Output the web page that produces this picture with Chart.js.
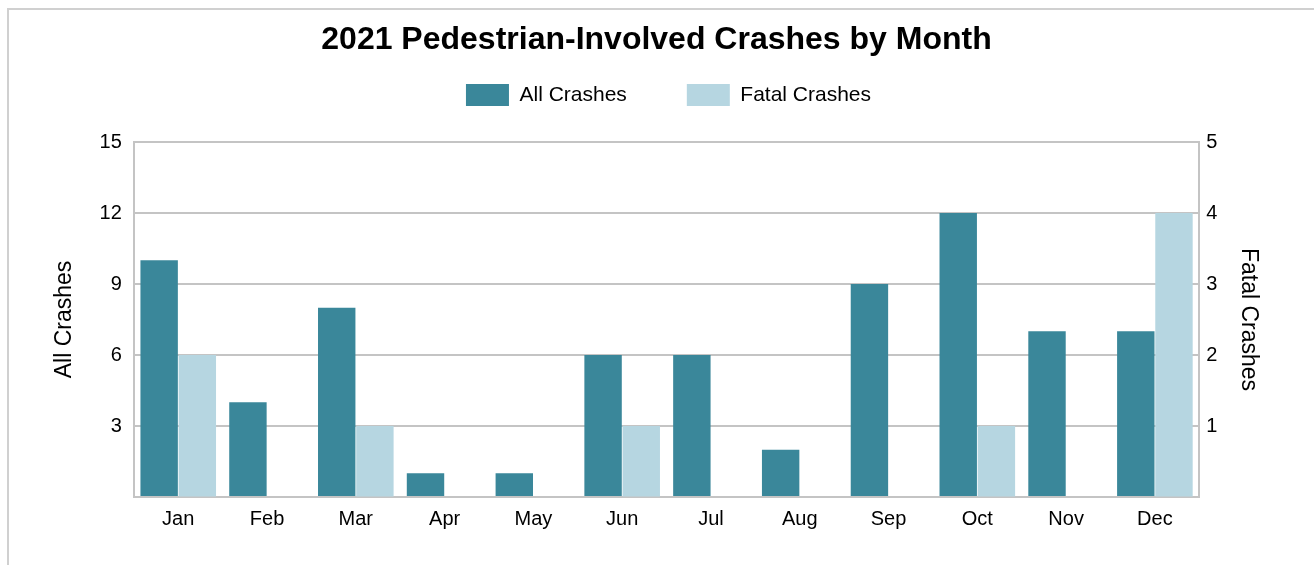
<!DOCTYPE html>
<html>
<head>
<meta charset="utf-8">
<script src="https://cdn.jsdelivr.net/npm/chart.js@4"></script>
<style>
  html, body { margin: 0; padding: 0; background: #fff; overflow: hidden; }
  #frame {
    position: absolute; left: 7px; top: 8px; width: 1330px; height: 580px;
    border: 2px solid #d0d0d0; box-sizing: border-box;
  }
  #wrap { position: absolute; left: 0; top: 0; width: 1314px; height: 565px; }
</style>
</head>
<body>
<div id="frame"></div>
<div id="wrap"><canvas id="crashChart"></canvas></div>
<script>
// 2021 pedestrian-involved crashes, by month
const months = ['Jan', 'Feb', 'Mar', 'Apr', 'May', 'Jun', 'Jul', 'Aug', 'Sep', 'Oct', 'Nov', 'Dec'];
const allCrashes = [10, 4, 8, 1, 1, 6, 6, 2, 9, 12, 7, 7];
const fatalCrashes = [2, 0, 1, 0, 0, 1, 0, 0, 0, 1, 0, 4];
const leftTicks = [3, 6, 9, 12, 15];
const rightTicks = [1, 2, 3, 4, 5];

const font = 'Arial, "Liberation Sans", sans-serif';
const gridGray = '#c4c4c4';

// legend sits closer to the title (and a bit right of centre) than its padding would allow
const legendLift = {
    id: 'legendLift',
    afterLayout(chart) {
        const lg = chart.legend;
        lg.top -= 26;
        lg.bottom -= 26;
        lg.left += 12;
        lg.right += 12;
    }
};

const ctx = document.getElementById('crashChart').getContext('2d');
new Chart(ctx, {
    type: 'bar',
    data: {
        labels: months,
        datasets: [{
            label: 'All Crashes',
            data: allCrashes,
            backgroundColor: '#3a879a',
            yAxisID: 'y'
        }, {
            label: 'Fatal Crashes',
            data: fatalCrashes,
            backgroundColor: '#b6d6e1',
            yAxisID: 'y1'
        }]
    },
    plugins: [legendLift],
    options: {
        responsive: true,
        maintainAspectRatio: false,
        animation: false,
        categoryPercentage: 0.86,
        barPercentage: 0.98,
        layout: { padding: { top: 14, left: 51, right: 52, bottom: 32 } },
        plugins: {
            title: {
                display: true,
                text: '2021 Pedestrian-Involved Crashes by Month',
                color: '#000',
                font: { family: font, size: 32, weight: 'bold', lineHeight: 1 },
                padding: { top: 10, bottom: -6 }
            },
            legend: {
                labels: {
                    color: '#000',
                    font: { family: font, size: 21 },
                    boxWidth: 43,
                    boxHeight: 22,
                    padding: 60
                }
            },
            tooltip: { enabled: false }
        },
        scales: {
            x: {
                grid: { display: false },
                border: { color: gridGray, width: 2 },
                ticks: { color: '#000', font: { family: font, size: 20 }, padding: 2 }
            },
            y: {
                position: 'left',
                min: 0,
                max: 15,
                afterBuildTicks: axis => { axis.ticks = [0, ...leftTicks].map(v => ({ value: v })); },
                ticks: {
                    color: '#000',
                    font: { family: font, size: 20 },
                    padding: 12,
                    callback: v => leftTicks.includes(v) ? v : ''
                },
                grid: { color: gridGray, lineWidth: 2, drawTicks: false },
                border: { color: gridGray, width: 2 },
                title: {
                    display: true,
                    text: 'All Crashes',
                    color: '#000',
                    font: { family: font, size: 23 },
                    padding: { top: 0, bottom: 9 }
                }
            },
            y1: {
                position: 'right',
                min: 0,
                max: 5,
                afterBuildTicks: axis => { axis.ticks = [0, ...rightTicks].map(v => ({ value: v })); },
                ticks: {
                    color: '#000',
                    font: { family: font, size: 20 },
                    padding: 7,
                    callback: v => rightTicks.includes(v) ? v : ''
                },
                grid: { drawOnChartArea: false, drawTicks: false },
                border: { color: gridGray, width: 2 },
                title: {
                    display: true,
                    text: 'Fatal Crashes',
                    color: '#000',
                    font: { family: font, size: 23 },
                    padding: { top: 0, bottom: 10 }
                }
            }
        }
    }
});
</script>
</body>
</html>
